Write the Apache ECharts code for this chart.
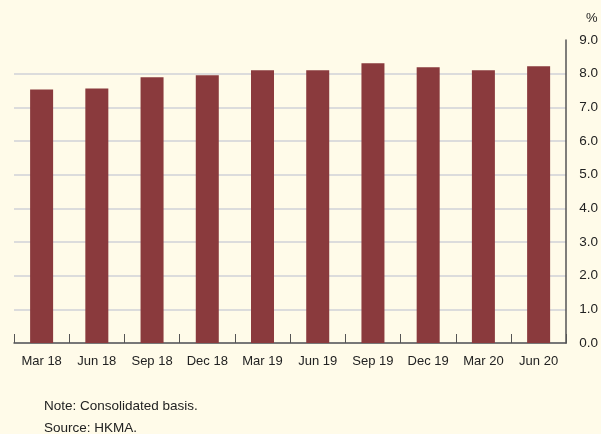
<!DOCTYPE html>
<html>
<head>
<meta charset="utf-8">
<script src="https://cdn.jsdelivr.net/npm/echarts@6/dist/echarts.min.js"></script>
<style>
  html, body { margin: 0; padding: 0; background: #fffbe9; }
  #chart { width: 601px; height: 434px; }
</style>
</head>
<body>
<div id="chart"></div>
<script>
// Quarter-end labels
const quarters = ['Mar 18', 'Jun 18', 'Sep 18', 'Dec 18', 'Mar 19', 'Jun 19', 'Sep 19', 'Dec 19', 'Mar 20', 'Jun 20'];
// Ratio values (%)
const ratio = [7.53, 7.56, 7.89, 7.95, 8.10, 8.10, 8.31, 8.19, 8.10, 8.22];
// Y-axis range
const yMin = 0, yMax = 9, yStep = 1;
// Footnotes
const noteText = 'Note: Consolidated basis.';
const sourceText = 'Source: HKMA.';

const font = '"Liberation Sans", Arial, Helvetica, sans-serif';
// grid lines at every tick except the top one
const gridColors = [];
for (let v = yMin; v <= yMax; v += yStep) gridColors.push(v === yMax ? 'rgba(0,0,0,0)' : '#dcdcdc');

const chart = echarts.init(document.getElementById('chart'), null, { renderer: 'canvas' });
chart.setOption({
  backgroundColor: '#fffbe9',
  animation: false,
  grid: { left: 14, right: 34, top: 40, bottom: 91 },
  xAxis: {
    type: 'category',
    data: quarters,
    axisLine: { show: true, lineStyle: { color: '#555', width: 1.5 } },
    axisTick: { show: true, inside: true, length: 9, interval: 0, lineStyle: { color: '#555', width: 1 } },
    axisLabel: { color: '#222', fontSize: 13, fontFamily: font, margin: 12, interval: 0 },
    splitLine: { show: false }
  },
  yAxis: {
    type: 'value',
    position: 'right',
    min: yMin, max: yMax, interval: yStep,
    axisLine: { show: true, lineStyle: { color: '#555', width: 1.5 } },
    axisTick: { show: false },
    axisLabel: { color: '#222', fontSize: 13.5, fontFamily: font, margin: 13,
      formatter: v => v.toFixed(1) },
    splitLine: { show: true, lineStyle: { color: gridColors, width: 2 } }
  },
  series: [{
    type: 'bar',
    data: ratio,
    barWidth: 23,
    itemStyle: { color: '#8a3a3d' }
  }],
  graphic: [
    { type: 'text', left: 586, top: 12, style: { text: '%', fill: '#222', font: '13px ' + font } },
    { type: 'text', left: 44, top: 399, style: { text: noteText, fill: '#222', font: '13.5px ' + font } },
    { type: 'text', left: 44, top: 421, style: { text: sourceText, fill: '#222', font: '13.5px ' + font } }
  ]
});
</script>
</body>
</html>
